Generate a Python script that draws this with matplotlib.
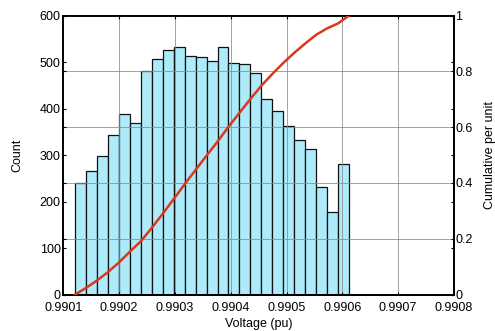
import numpy as np
import matplotlib
matplotlib.use('Agg')
import matplotlib.pyplot as plt

plt.rcParams['font.family'] = ['Liberation Sans', 'DejaVu Sans']

# histogram of voltage (pu), 25 bins
v_min = 0.990121
v_max = 0.990612
counts = [239, 266, 299, 344, 389, 370, 480, 507, 525, 532, 513, 510, 502,
          532, 497, 496, 476, 420, 395, 363, 332, 313, 231, 177, 281]
xticks = [0.9901, 0.9902, 0.9903, 0.9904, 0.9905, 0.9906, 0.9907, 0.9908]
xlabels = ['0.9901', '0.9902', '0.9903', '0.9904', '0.9905', '0.9906', '0.9907', '0.9908']
count_ticks = [0, 100, 200, 300, 400, 500, 600]
cum_ticks = [0, 0.2, 0.4, 0.6, 0.8, 1]
cum_labels = ['0', '0.2', '0.4', '0.6', '0.8', '1']

edges = np.linspace(v_min, v_max, len(counts) + 1)
cum = np.concatenate([[0], np.cumsum(counts)]) / np.sum(counts)

fig = plt.figure(figsize=(4.95, 3.31), dpi=100)
ax = fig.add_axes([0.128, 0.110, 0.789, 0.843])
ax2 = ax.twinx()

ax.bar(edges[:-1], counts, width=np.diff(edges), align='edge',
       color='#ADEBFB', edgecolor='#111111', linewidth=0.9, zorder=2)
ax.set_xlim(0.9901, 0.9908)
ax.set_ylim(0, 600)
ax.set_xticks(xticks)
ax.set_xticklabels(xlabels)
ax.set_yticks(count_ticks)
ax.xaxis.grid(True, color='#8a8a8a', linewidth=0.7, alpha=0.8, zorder=1)
ax.set_axisbelow(False)
ax.tick_params(direction='in', length=2.5, labelsize=9, top=True, right=True,
               width=0.8, pad=2)
ax.tick_params(axis='x', pad=5)
ax.set_ylabel('Count', fontsize=9, labelpad=12)
ax.set_xlabel('Voltage (pu)', fontsize=9, labelpad=3)

ax2.plot(edges, cum, color='#D9381E', linewidth=1.8, zorder=3)
ax2.set_ylim(0, 1)
ax2.set_yticks(cum_ticks)
ax2.set_yticklabels(cum_labels)
ax2.yaxis.grid(True, color='#8a8a8a', linewidth=0.7, alpha=0.8)
ax2.tick_params(direction='in', length=2.5, labelsize=9, left=True, width=0.8,
                pad=1)
ax2.set_ylabel('Cumulative per unit', fontsize=9, labelpad=8)

for a in (ax, ax2):
    for s in a.spines.values():
        s.set_linewidth(1.3)
        s.set_color('black')

fig.savefig('out.png', dpi=100)
